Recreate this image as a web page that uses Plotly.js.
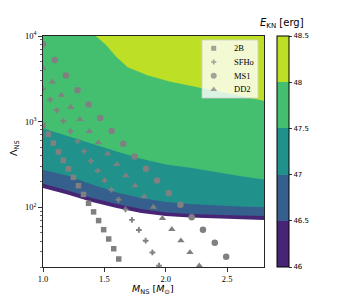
<!DOCTYPE html>
<html><head><meta charset="utf-8">
<script src="https://cdn.plot.ly/plotly-3.0.1.min.js"></script>
<style>html,body{margin:0;padding:0;background:#fff}#chart{width:354px;height:300px}</style>
</head><body><div id="chart"></div>
<script>
// ---- contour band boundaries (Lambda at which E_KN crosses each level) ----
const massGrid = [1.0, 1.2, 1.4, 1.6, 1.8, 2.0, 2.2, 2.4, 2.6, 2.8];
const lam46   = [168, 141, 115, 97.7, 85.3, 78.7, 75.5, 73.5, 72.1, 71.0];
const lam46_5 = [187.5, 157, 128, 109, 95.1, 86.5, 83.0, 80.7, 79.8, 78.7];
const lam47   = [274, 233, 184, 148, 128, 115, 109, 105, 102, 99.8];
const lam47_5 = [834, 676, 543, 447, 367, 316, 288, 257, 232, 210];
const mass48  = [1.43, 1.514, 1.596, 1.69, 1.85, 2.03, 2.28, 2.55, 2.8];
const lam48   = [10000, 7834, 5715, 4325, 3467, 2931, 2489, 2089, 1754];
const levels  = [46, 46.5, 47, 47.5, 48, 48.5];
const levelLabels = ['46', '46.5', '47', '47.5', '48', '48.5'];

// ---- EOS sequences ----
const eosNames = ['2B', 'SFHo', 'MS1', 'DD2'];
const m2B   = [1.0, 1.043, 1.084, 1.125, 1.166, 1.207, 1.248, 1.289, 1.330, 1.371, 1.412, 1.453, 1.494, 1.535, 1.576, 1.617];
const lam2B = [906, 710, 562, 442, 352, 281, 223, 178, 141, 111, 88.1, 69.7, 54.6, 42.5, 32.7, 24.8];
const mSFHo   = [1.0, 1.057, 1.112, 1.166, 1.224, 1.281, 1.336, 1.391, 1.445, 1.502, 1.557, 1.615, 1.672, 1.724, 1.781, 1.836, 1.891, 1.945];
const lamSFHo = [2415, 1811, 1355, 1016, 769, 587, 449, 345, 267, 205, 160, 122, 94.2, 71.0, 54.2, 40.6, 29.6, 20.7];
const mMS1   = [1.0, 1.096, 1.186, 1.281, 1.371, 1.466, 1.559, 1.653, 1.746, 1.839, 1.929, 2.025, 2.119, 2.211, 2.303, 2.399, 2.492];
const lamMS1 = [8000, 5236, 3459, 2328, 1585, 1102, 776, 550, 392, 281, 205, 146, 107, 76.2, 54.6, 38.5, 26.4];
const mDD2   = [1.0, 1.076, 1.150, 1.225, 1.301, 1.377, 1.451, 1.525, 1.601, 1.675, 1.750, 1.824, 1.899, 1.973, 2.049, 2.123, 2.197, 2.273];
const lamDD2 = [4217, 2911, 2032, 1472, 1059, 769, 568, 422, 316, 234, 178, 133, 100, 74.1, 55.1, 40.6, 29.6, 20.7];

const xTickVals = [1.0, 1.5, 2.0, 2.5];
const xTickText = ['1.0', '1.5', '2.0', '2.5'];
const yTickVals = [100, 1000, 10000];
const yTickText = ['10<sup>2</sup>', '10<sup>3</sup>', '10<sup>4</sup>'];

// ---- styling ----
const bandColors = ['#482475', '#355f8d', '#21918c', '#44bf70', '#bddf26'];
const gray = 'rgb(128,128,128)';
const symbols = ['square', 'cross', 'circle', 'triangle-up'];
const sizes = [5.5, 4.8, 6.5, 6.5];

const LAM_TOP = 10000, M_MIN = 1.0, M_MAX = 2.8;
const L = 43, R = 264, T = 36, B = 267;
const px = p => (p - L) / (R - L);
const py = p => (B - p) / (B - T);

const traces = [];
// stacked bands: each level's region from its boundary up to the top
const bounds = [[massGrid, lam46], [massGrid, lam46_5], [massGrid, lam47], [massGrid, lam47_5], [mass48, lam48]];
bounds.forEach(([mx, ly], i) => {
  const last = mx[mx.length - 1], first = mx[0];
  traces.push({
    type: 'scatter', mode: 'lines', hoverinfo: 'skip', showlegend: false,
    x: mx.concat([last, first]),
    y: ly.concat([LAM_TOP, LAM_TOP]),
    fill: 'toself', fillcolor: bandColors[i], line: {width: 0, color: bandColors[i]}
  });
});

const eosM = [m2B, mSFHo, mMS1, mDD2];
const eosL = [lam2B, lamSFHo, lamMS1, lamDD2];
eosNames.forEach((n, i) => {
  traces.push({
    type: 'scatter', mode: 'markers', name: n, showlegend: false,
    x: eosM[i], y: eosL[i],
    marker: {symbol: symbols[i], size: sizes[i], color: gray, line: {width: 0}}
  });
});

// colorbar carrier
const cs = [];
bandColors.forEach((c, i) => { cs.push([i / 5, c]); cs.push([(i + 1) / 5, c]); });
traces.push({
  type: 'scatter', mode: 'markers', x: [1.5], y: [5000], showlegend: false, hoverinfo: 'skip',
  marker: {size: 1, opacity: 0, color: [levels[0]], cmin: levels[0], cmax: levels[levels.length - 1],
    colorscale: cs, showscale: true,
    colorbar: {x: px(277), xanchor: 'left', xpad: 0, ypad: 0, y: 0.5, yanchor: 'middle', len: 1, lenmode: 'fraction',
      thickness: 12, thicknessmode: 'pixels', outlinewidth: 1, outlinecolor: '#000',
      tickmode: 'array', tickvals: levels, ticktext: levelLabels, ticks: 'outside', ticklen: 3, tickwidth: 0.8,
      tickcolor: '#000', tickfont: {family: 'DejaVu Sans', size: 7, color: '#000'}}}
});

// legend box + symbols on an overlay axis
const legX0 = px(202), legX1 = px(258), legY0 = py(98), legY1 = py(40);
traces.push({
  type: 'scatter', mode: 'lines', xaxis: 'x2', yaxis: 'y2', hoverinfo: 'skip', showlegend: false,
  x: [legX0, legX1, legX1, legX0, legX0], y: [legY0, legY0, legY1, legY1, legY0],
  fill: 'toself', fillcolor: 'rgba(255,255,255,0.8)', line: {color: '#d0d0d0', width: 0.8}
});
const legRowY = eosNames.map((n, i) => py(48.3 + i * 13.7));
traces.push({
  type: 'scatter', mode: 'markers', xaxis: 'x2', yaxis: 'y2', hoverinfo: 'skip', showlegend: false,
  x: eosNames.map(() => px(213.7)), y: legRowY,
  marker: {symbol: symbols, size: sizes.map(s => s - 0.5), color: gray, line: {width: 0}}
});

const annotations = eosNames.map((n, i) => ({
  xref: 'paper', yref: 'paper', x: px(231.5), y: legRowY[i], xanchor: 'left', yanchor: 'middle',
  text: n, showarrow: false, font: {family: 'Liberation Serif', size: 8.5, color: '#000'}
}));
annotations.push({
  xref: 'paper', yref: 'paper', x: px(153), y: py(289), xanchor: 'center', yanchor: 'middle', showarrow: false,
  text: '<i>M</i><sub>NS</sub> [<i>M</i><sub>⊙</sub>]', font: {family: 'DejaVu Sans', size: 9.5, color: '#000'}
});
annotations.push({
  xref: 'paper', yref: 'paper', x: px(14), y: py(148), xanchor: 'center', yanchor: 'middle', showarrow: false,
  textangle: -90, text: 'Λ<sub>NS</sub>', font: {family: 'DejaVu Sans', size: 9.5, color: '#000'}
});
annotations.push({
  xref: 'paper', yref: 'paper', x: px(281.5), y: py(23), xanchor: 'center', yanchor: 'middle', showarrow: false,
  text: '<i>E</i><sub>KN</sub> [erg]', font: {family: 'DejaVu Sans', size: 10, color: '#000'}
});

const minorVals = [];
[10, 100, 1000].forEach(d => { for (let k = 2; k <= 9; k++) minorVals.push(k * d); });

const layout = {
  width: 354, height: 300, margin: {l: L, r: 354 - R, t: T, b: 300 - B, pad: 0},
  paper_bgcolor: '#fff', plot_bgcolor: '#fff', showlegend: false,
  xaxis: {range: [M_MIN, M_MAX], tickmode: 'array', tickvals: xTickVals, ticktext: xTickText,
    ticks: 'outside', ticklen: 3.5, tickwidth: 0.8, tickcolor: '#000', showgrid: false, zeroline: false,
    showline: true, mirror: true, linecolor: '#262626', linewidth: 1.3,
    tickfont: {family: 'Liberation Serif', size: 8.5, color: '#000'}},
  yaxis: {type: 'log', range: [Math.log10(20), 4], tickmode: 'array', tickvals: yTickVals, ticktext: yTickText,
    ticks: 'outside', ticklen: 3.5, tickwidth: 0.8, tickcolor: '#000', showgrid: false, zeroline: false,
    showline: true, mirror: true, linecolor: '#262626', linewidth: 1.3,
    minor: {tickmode: 'array', tickvals: minorVals, ticks: 'outside', ticklen: 2, tickwidth: 0.6, tickcolor: '#000', showgrid: false},
    tickfont: {family: 'Liberation Serif', size: 8.5, color: '#000'}},
  xaxis2: {overlaying: 'x', anchor: 'y2', range: [0, 1], visible: false, fixedrange: true},
  yaxis2: {overlaying: 'y', anchor: 'x2', range: [0, 1], visible: false, fixedrange: true},
  annotations: annotations
};

Plotly.newPlot('chart', traces, layout, {staticPlot: true, displayModeBar: false});
</script></body></html>
